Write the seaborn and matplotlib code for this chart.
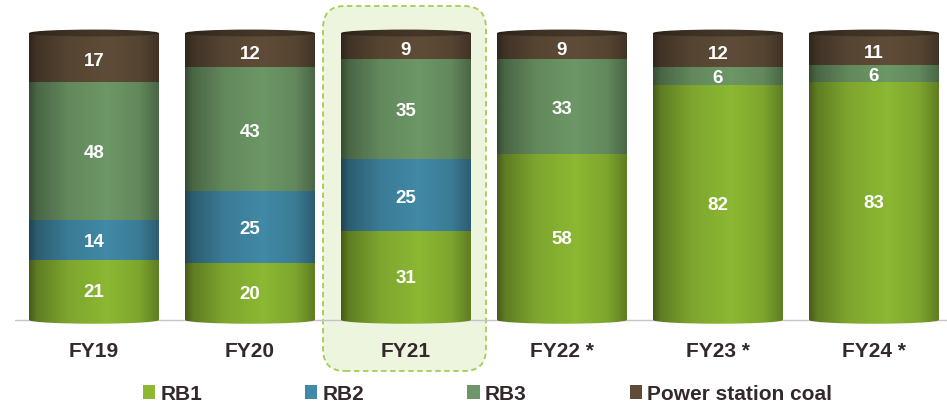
import numpy as np
import pandas as pd
import matplotlib
matplotlib.use("Agg")
import matplotlib.pyplot as plt
import seaborn as sns
from matplotlib.patches import FancyBboxPatch, Ellipse, Patch
from matplotlib.transforms import IdentityTransform
from matplotlib.colors import to_rgb

# ---- data ----
years = ["FY19", "FY20", "FY21", "FY22 *", "FY23 *", "FY24 *"]
rb1 = [21, 20, 31, 58, 82, 83]
rb2 = [14, 25, 25, 0, 0, 0]
rb3 = [48, 43, 35, 33, 6, 6]
coal = [17, 12, 9, 9, 12, 11]
series_names = ["RB1", "RB2", "RB3", "Power station coal"]
colors = ["#8cb833", "#4189a6", "#6d9766", "#5f4c38"]
highlight = "FY21"

sns.set_theme(style="white")
plt.rcParams["font.family"] = ["Liberation Sans", "DejaVu Sans"]
TXT = "#33292a"

W, H = 947, 405
fig = plt.figure(figsize=(W / 100, H / 100), dpi=100)
fig.patch.set_facecolor("white")

ppu = 2.87  # pixels per data unit
y0_px = 320
ylo, yhi = -5, 105
ax_bot_px = y0_px - ylo * ppu
ax_top_px = y0_px - yhi * ppu
ax = fig.add_axes([15 / W, (H - ax_bot_px) / H, 932 / W, (ax_bot_px - ax_top_px) / H])
ax.set_facecolor("none")

# highlight box behind FY21
box = FancyBboxPatch((323, H - 371), 163, 365,
                     boxstyle="round,pad=0,rounding_size=22",
                     transform=IdentityTransform(), facecolor="#eef5df",
                     edgecolor="#a3cd57", linewidth=1.3, linestyle=(0, (3, 2)),
                     zorder=-1)
fig.add_artist(box)

df = pd.DataFrame({"year": years, "RB1": rb1, "RB2": rb2, "RB3": rb3,
                   "Power station coal": coal})
cum = df[series_names].cumsum(axis=1)

# shading profile for cylinder look
tp = [0.0, 0.06, 0.3, 0.6, 0.85, 1.0]
fp = [0.5, 0.68, 0.9, 1.0, 0.9, 0.68]
tt = np.linspace(0, 1, 200)
prof = np.interp(tt, tp, fp)


def grad_img(color, k=1.0):
    c = np.array(to_rgb(color))
    img = np.clip(prof[:, None] * c[None, :] * k, 0, 1)
    return img[None, :, :]


bw = 0.83
layer_patches = {}
for li in range(len(series_names) - 1, -1, -1):
    name = series_names[li]
    n0 = len(ax.patches)
    sns.barplot(x=df["year"], y=cum[name], color=colors[li], saturation=1,
                width=bw, ax=ax, zorder=2 + (3 - li), linewidth=0)
    layer_patches[name] = ax.patches[n0:]

for li, name in enumerate(series_names):
    z = 2 + (3 - li)
    for p in layer_patches[name]:
        x, y, w, h = p.get_x(), p.get_y(), p.get_width(), p.get_height()
        if h <= 0:
            continue
        im = ax.imshow(grad_img(colors[li]), extent=(x, x + w, y, y + h),
                       aspect="auto", zorder=z + 0.1, interpolation="bilinear")
        im.set_clip_path(p)
        p.set_facecolor("none")

# cylinder caps
for i, p in enumerate(layer_patches["RB1"]):
    x, w = p.get_x(), p.get_width()
    cx = x + w / 2
    bot = Ellipse((cx, 0), w, 2.6, facecolor="none", edgecolor="none", zorder=6)
    ax.add_patch(bot)
    im = ax.imshow(grad_img(colors[0]), extent=(x, x + w, -1.5, 1.5),
                   aspect="auto", zorder=6, interpolation="bilinear")
    im.set_clip_path(bot)
    total = cum["Power station coal"].iloc[i]
    top = Ellipse((cx, total), w, 2.4, facecolor="none", edgecolor="none", zorder=7)
    ax.add_patch(top)
    im = ax.imshow(grad_img(colors[3], 0.72), extent=(x, x + w, total - 1.3, total + 1.3),
                   aspect="auto", zorder=7, interpolation="bilinear")
    im.set_clip_path(top)

# value labels
for i in range(len(years)):
    base = 0
    for li, name in enumerate(series_names):
        v = df[name].iloc[i]
        if v > 0:
            mid = base + v / 2 - 1.0
            if name == "Power station coal":
                mid -= 0.5
            ax.text(i, mid, str(v), ha="center", va="center", color="white",
                    fontsize=13.5, fontweight="bold", zorder=10)
        base += v

ax.axhline(0, color="#c4c4c4", lw=1, zorder=1)
ax.set_xlim(-0.506, 5.468)
ax.set_ylim(ylo, yhi)
ax.set_yticks([])
ax.set_xlabel("")
ax.set_ylabel("")
for s in ax.spines.values():
    s.set_visible(False)
ax.tick_params(axis="x", length=0, pad=5.5)
for lab in ax.get_xticklabels():
    lab.set_fontweight("bold")
    lab.set_fontsize(15)
    lab.set_color(TXT)

handles = [Patch(facecolor=c, edgecolor="none") for c in colors]
fig.legend(handles, series_names, loc="center left",
           bbox_to_anchor=(143 / W, 1 - 394 / H),
           ncol=4, frameon=False, prop={"weight": "bold", "size": 15},
           handlelength=0.58, handleheight=0.68, handletextpad=0.25,
           columnspacing=4.95, labelcolor=TXT, borderpad=0, borderaxespad=0)

fig.savefig("out.png", dpi=100)
